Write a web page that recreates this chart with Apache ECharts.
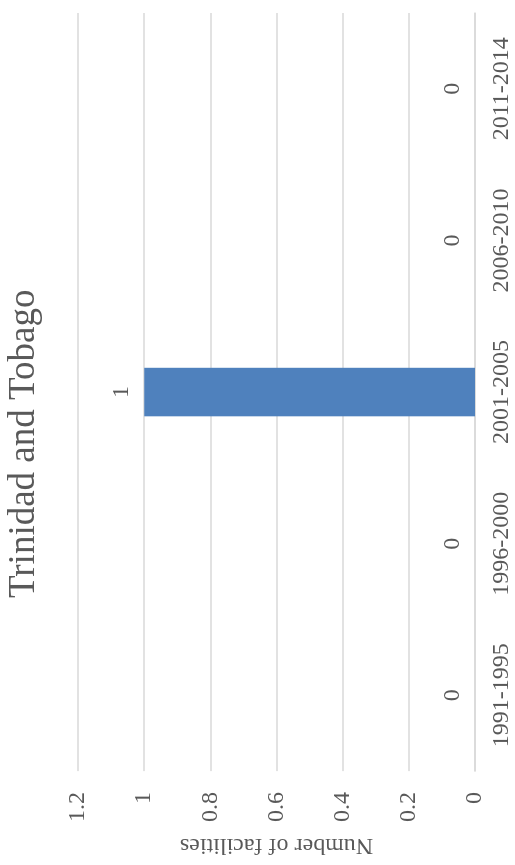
<!DOCTYPE html>
<html>
<head>
<meta charset="utf-8">
<script src="https://cdn.jsdelivr.net/npm/echarts@6/dist/echarts.min.js"></script>
<style>
  html, body { margin: 0; padding: 0; background: #fff; overflow: hidden; width: 515px; height: 865px; }
  #chart { position: absolute; left: 0; top: 0; width: 865px; height: 515px;
           transform-origin: 0 0; transform: translateY(865px) rotate(-90deg); }
</style>
</head>
<body>
<div id="chart"></div>
<script>
const titleText = 'Trinidad and Tobago';
const axisTitle = 'Number of facilities';
const categories = ['1991-1995', '1996-2000', '2001-2005', '2006-2010', '2011-2014'];
const facilities = [0, 0, 1, 0, 0];
const valueTicks = { min: 0, max: 1.2, interval: 0.2 };

const font = '"Liberation Serif", "DejaVu Serif", serif';
const textColor = '#595959';
const gridColor = '#d9d9d9';

const chart = echarts.init(document.getElementById('chart'), null, { renderer: 'canvas' });
chart.setOption({
  animation: false,
  backgroundColor: '#ffffff',
  title: {
    text: titleText,
    left: 267,
    top: 6,
    padding: 0,
    textStyle: { fontFamily: font, fontSize: 37, fontWeight: 'normal', color: textColor }
  },
  grid: { left: 88, right: 13, top: 78, bottom: 40, containLabel: false },
  xAxis: {
    type: 'category',
    data: categories,
    axisLine: { show: true, lineStyle: { color: gridColor, width: 1.5 } },
    axisTick: { show: false },
    axisLabel: { margin: 15, fontFamily: font, fontSize: 24, color: textColor }
  },
  yAxis: {
    type: 'value',
    min: valueTicks.min,
    max: valueTicks.max,
    interval: valueTicks.interval,
    name: axisTitle,
    nameLocation: 'middle',
    nameGap: 58,
    nameTextStyle: { fontFamily: font, fontSize: 24, color: textColor },
    axisLine: { show: false },
    axisTick: { show: false },
    splitLine: { show: true, lineStyle: { color: gridColor, width: 1.5 } },
    axisLabel: { margin: 21, fontFamily: font, fontSize: 24, color: textColor }
  },
  series: [{
    type: 'bar',
    data: facilities,
    barWidth: '32%',
    itemStyle: { color: '#4F81BD' },
    label: {
      show: true,
      position: 'top',
      distance: 10,
      fontFamily: font,
      fontSize: 24,
      color: textColor
    }
  }]
});
</script>
</body>
</html>
